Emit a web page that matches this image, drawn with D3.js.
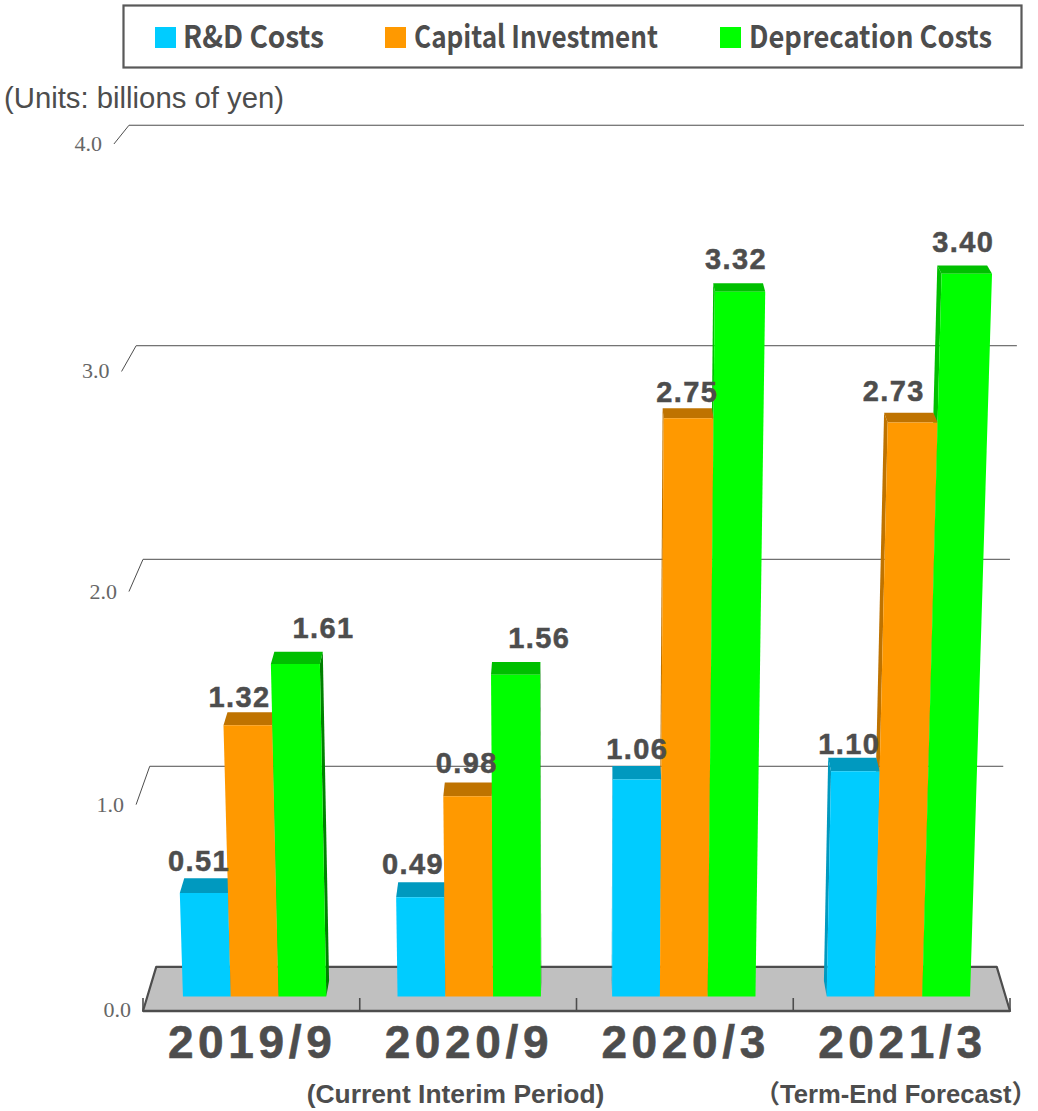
<!DOCTYPE html>
<html><head><meta charset="utf-8">
<style>html,body{margin:0;padding:0;background:#fff}svg{display:block}</style>
<script src="https://cdn.jsdelivr.net/npm/d3@7/dist/d3.min.js"></script>
</head><body><svg id="c" width="1038" height="1111"></svg>
<script>
const categories = ["2019/9", "2020/9", "2020/3", "2021/3"];
const seriesNames = ["R&D Costs", "Capital Investment", "Deprecation Costs"];
const rdCosts = [0.51, 0.49, 1.06, 1.10];
const capitalInvestment = [1.32, 0.98, 2.75, 2.73];
const depreciationCosts = [1.61, 1.56, 3.32, 3.40];
const yTicks = [0, 1, 2, 3, 4];
const subLabels = ["", "(Current Interim Period)", "", "（Term-End Forecast）"];
const seriesValues = [rdCosts, capitalInvestment, depreciationCosts];

// manual label nudges [dx, dy] relative to bar top, same order as the series arrays
const nudgeRd = [[-9,-7],[-9,-8],[1,-7],[-3,-4]];
const nudgeCap = [[-12,-5],[-2,-9],[0,-6],[-15,-12]];
const nudgeDep = [[25,-14],[23,-14],[-2,-14],[1,-14]];
const nudges = [nudgeRd, nudgeCap, nudgeDep];

const INK = "#4d4d4d";
const front = ["#00ccff", "#ff9900", "#00ff00"];
const topC = ["#0099bf", "#bf7300", "#00bf00"];
const rightSide = ["#007a99", "#805c00", "#008000"];
const leftSide = ["#0099bf", "#bf7300", "#00bf00"];

const svg = d3.select("#c");

// Perspective projection of the 3D plot box: X world px, v data value, z depth (0 front wall, 1 back wall)
const CX = 576.5, VY = -432;
const xWorld = d3.scaleBand().domain(categories).range([-433.5, 433.5]);
const yWorld = d3.scaleLinear().domain([0, 4]).range([1443, 1443 - 903.2]);
const persp = 0.0157, depth = 0.0315;
const project = (X, v, z) => {
  const w = 1 - persp * v + depth * z;
  return [CX + X / w, VY + yWorld(v) / w];
};
const poly = pts => "M" + pts.map(p => p.join(",")).join("L") + "Z";
const seg = (a, b) => "M" + a.join(",") + "L" + b.join(",");

const ZF = 0.32, ZB = 0.68;
const L = xWorld.range()[0], R = xWorld.range()[1];
// group occupies the middle of each band
const inner = d3.scaleBand().domain(d3.range(3)).range([-72.4, 72.4]);

// floor
svg.append("path")
  .attr("d", poly([project(L,0,0), project(L,0,1), project(R,0,1), project(R,0,0)]))
  .attr("fill", "#c0c0c0").attr("stroke", INK).attr("stroke-width", 2.2).attr("stroke-linejoin", "round");

// gridlines
yTicks.filter(t => t > 0).forEach(t => {
  const a = project(L, t, 0), b = project(L, t, 1), c = project(R, t, 1);
  svg.append("path").attr("d", `M${a}L${b}L${c}`).attr("fill", "none")
    .attr("stroke", INK).attr("stroke-width", 1);
});

// axis ticks
const boundaries = categories.map(c => xWorld(c)).concat([R]);
boundaries.forEach(X => {
  const p = project(X, 0, 0);
  svg.append("line").attr("x1", p[0]).attr("x2", p[0]).attr("y1", p[1]).attr("y2", p[1] - 13)
    .attr("stroke", INK).attr("stroke-width", 1.6);
});
svg.append("path").attr("d", seg(project(L,0,0), project(R,0,0)))
  .attr("stroke", INK).attr("stroke-width", 2.6).attr("fill", "none");

// y tick labels
yTicks.forEach(t => {
  const p = project(L, t, 0);
  svg.append("text").attr("x", p[0] - 12).attr("y", p[1] + (t === 0 ? 6 : 7))
    .attr("text-anchor", "end").attr("font-family", "Liberation Serif").attr("font-size", 22)
    .attr("fill", "#666").text(t.toFixed(1));
});

// bars
const bars = [];
categories.forEach((c, i) => {
  const cx = xWorld(c) + xWorld.bandwidth() / 2;
  seriesValues.forEach((vals, s) => {
    bars.push({ g: i, s, v: vals[i], x0: cx + inner(s), x1: cx + inner(s) + inner.bandwidth() });
  });
});
const gBack = svg.append("g"), gFront = svg.append("g");
bars.slice().sort((a, b) => d3.descending(a.v, b.v)).forEach(d => {
  const useSide = (d.x0 + d.x1) / 2 < 0 ? d.x1 : d.x0;
  const side = d.x1 <= 0 ? rightSide : leftSide;
  gBack.append("path").attr("d", poly([project(useSide,0,ZF), project(useSide,d.v,ZF), project(useSide,d.v,ZB), project(useSide,0,ZB)]))
    .attr("fill", side[d.s]);
  gBack.append("path").attr("d", poly([project(d.x0,d.v,ZF), project(d.x1,d.v,ZF), project(d.x1,d.v,ZB), project(d.x0,d.v,ZB)]))
    .attr("fill", topC[d.s]);
});
bars.forEach(d => {
  gFront.append("path").attr("d", poly([project(d.x0,0,ZF), project(d.x0,d.v,ZF), project(d.x1,d.v,ZF), project(d.x1,0,ZF)]))
    .attr("fill", front[d.s]);
});

// value labels
bars.forEach(d => {
  const a = project((d.x0 + d.x1) / 2, d.v, ZB);
  const n = nudges[d.s][d.g];
  svg.append("text").attr("x", a[0] + n[0]).attr("y", a[1] + n[1])
    .attr("text-anchor", "middle").attr("font-family", "Liberation Sans").attr("font-weight", 700)
    .attr("font-size", 29).attr("letter-spacing", 1.4).attr("fill", INK)
    .attr("stroke", INK).attr("stroke-width", 0.5).text(d.v.toFixed(2));
});

// category labels
categories.forEach((c, i) => {
  const p = project(xWorld(c) + xWorld.bandwidth() / 2, 0, 0);
  svg.append("text").attr("x", p[0] - 1.5).attr("y", 1058).attr("text-anchor", "middle")
    .attr("font-family", "Liberation Sans").attr("font-weight", 700).attr("font-size", 46)
    .attr("textLength", 164).attr("lengthAdjust", "spacing").attr("fill", INK)
    .attr("stroke", INK).attr("stroke-width", 0.6).text(c);
  if (subLabels[i]) {
    const last = i === 3;
    svg.append("text").attr("x", last ? 1037 : 455.5).attr("y", 1103)
      .attr("text-anchor", last ? "end" : "middle")
      .attr("font-family", "Liberation Sans, Noto Sans CJK JP").attr("font-weight", 700)
      .attr("font-size", last ? 25.6 : 26.4)
      .attr("fill", INK).text(subLabels[i]);
  }
});

// units
svg.append("text").attr("x", 4).attr("y", 108).attr("font-family", "Liberation Sans")
  .attr("font-size", 29.3).attr("fill", INK).text("(Units: billions of yen)");

// legend
svg.append("rect").attr("x", 123.5).attr("y", 5.5).attr("width", 898).attr("height", 62)
  .attr("fill", "#fff").attr("stroke", "#595959").attr("stroke-width", 2.2);
const swatchX = [155, 385, 720], textX = [183, 414, 749], textW = [141, 244, 243];
seriesNames.forEach((n, i) => {
  svg.append("rect").attr("x", swatchX[i]).attr("y", 27).attr("width", 21).attr("height", 21).attr("fill", front[i]);
  svg.append("text").attr("x", textX[i]).attr("y", 48).attr("font-family", "Noto Sans CJK JP")
    .attr("font-weight", 700).attr("font-size", 31).attr("textLength", textW[i]).attr("lengthAdjust", "spacingAndGlyphs")
    .attr("fill", INK).text(n);
});
</script></body></html>
